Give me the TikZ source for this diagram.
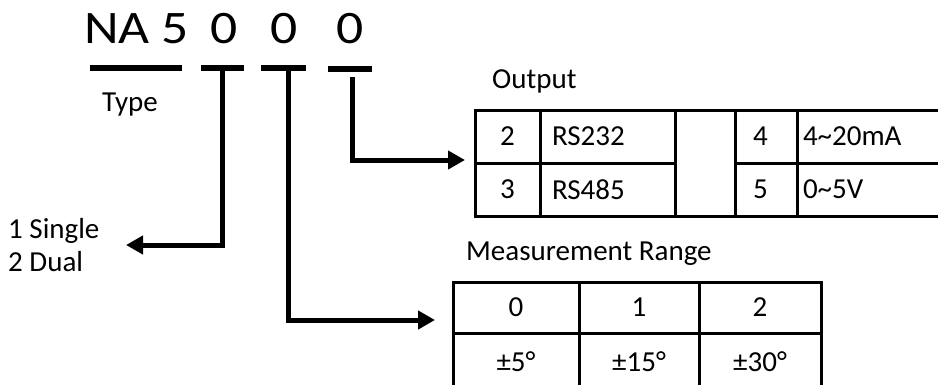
\documentclass[tikz,border=0pt]{standalone}
\usepackage{fontspec}
\usetikzlibrary{arrows.meta,positioning}
\newfontfamily\calfont{Carlito}
\newfontfamily\bigfont{Carlito}[FakeStretch=1.15]

\begin{document}
\begin{tikzpicture}[x=1pt,y=-1pt,>={Triangle[length=17pt,width=18pt]}]
  \tikzstyle{lbl}=[inner sep=0pt,font={\calfont\fontsize{29}{34}\selectfont}]
  \tikzstyle{code}=[inner sep=0pt,font={\bigfont\fontsize{46.6}{56}\selectfont}]
  \tikzstyle{bar}=[line width=6pt]
  \tikzstyle{lead}=[->,line width=5pt]
  \tikzstyle{cell}=[draw,line width=3pt,inner sep=0pt,outer sep=0pt,minimum height=53pt,font={\calfont\fontsize{29}{34}\selectfont}]

  \useasboundingbox (0,0) rectangle (938,384);
  \clip (0,0) rectangle (938,384);

  % order code
  \node[code,anchor=base west] (na) at (84,43) {NA 5};
  \node[code,anchor=base]      (d1) at (224.5,43) {0};
  \node[code,anchor=base]      (d2) at (284.5,43) {0};
  \node[code,anchor=base]      (d3) at (350,43) {0};

  \draw[bar] (90,68) -- (182,68);
  \draw[bar] (201,68) -- (244,68);
  \draw[bar] (261,68) -- (306,68);
  \draw[bar] (328,69) -- (372,69);

  \node[lbl,anchor=base west] (type) at (102,111) {Type};

  \coordinate (t1) at (222,68);
  \coordinate (t2) at (288,68);
  \coordinate (t3) at (352,77);

  % channels
  \node[lbl,anchor=base west] (single) at (8,238) {1 Single};
  \node[lbl,anchor=base west] (dual)   at (8,271) {2 Dual};
  \coordinate (chan) at (126,245);

  % output
  \node[lbl,anchor=base west] (outlbl) at (492,88) {Output};
  \node[cell,minimum width=65pt,anchor=north west] (o2) at (475,110) {2};
  \node[cell,text width=111pt,inner xsep=12pt,align=left] (rs232) [right=0pt of o2] {RS232};
  \node[cell,minimum width=60pt,minimum height=106pt,anchor=north west] (gap) at (rs232.north east) {};
  \node[cell,text width=26pt,inner xsep=18pt,align=left,anchor=north west] (o4) at (gap.north east) {4};
  \node[cell,text width=136pt,inner xsep=6pt,align=left] (ma) [right=0pt of o4] {4\textasciitilde20mA};
  \node[cell,minimum width=65pt] (o3) [below=0pt of o2] {3};
  \node[cell,text width=111pt,inner xsep=12pt,align=left] (rs485) [below=0pt of rs232] {RS485};
  \node[cell,text width=26pt,inner xsep=18pt,align=left] (o5) [below=0pt of o4] {5};
  \node[cell,text width=136pt,inner xsep=6pt,align=left] (volt) [below=0pt of ma] {0\textasciitilde5V};
  \coordinate (out) at (465,160);

  % measurement range
  \node[lbl,anchor=base west] (rangelbl) at (466,260) {Measurement Range};
  \node[cell,minimum width=126pt,minimum height=51pt,anchor=north west] (r0) at (453,282) {0};
  \node[cell,minimum width=120pt,minimum height=51pt] (r1) [right=0pt of r0] {1};
  \node[cell,minimum width=122pt,minimum height=51pt] (r2) [right=0pt of r1] {2};
  \node[cell,minimum width=126pt,minimum height=57pt] (a5)  [below=0pt of r0] {±5°};
  \node[cell,minimum width=120pt,minimum height=57pt] (a15) [below=0pt of r1] {±15°};
  \node[cell,minimum width=122pt,minimum height=57pt] (a30) [below=0pt of r2] {±30°};
  \coordinate (range) at (435,320);

  \draw[lead] (t1) |- (chan);
  \draw[lead] (t2) |- (range);
  \draw[lead] (t3) |- (out);
\end{tikzpicture}
\end{document}
